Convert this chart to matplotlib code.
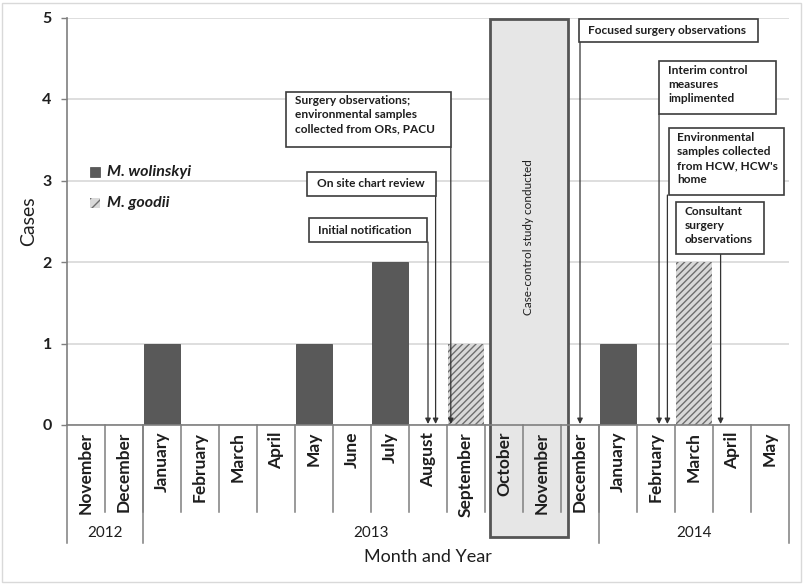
import numpy as np
import matplotlib
matplotlib.use('Agg')
import matplotlib.pyplot as plt
from matplotlib.patches import Rectangle

plt.rcParams['font.family'] = ['Lato', 'DejaVu Sans']
plt.rcParams['hatch.linewidth'] = 1.0

# ---------------- data ----------------
months = ['November', 'December', 'January', 'February', 'March', 'April',
          'May', 'June', 'July', 'August', 'September', 'October', 'November',
          'December', 'January', 'February', 'March', 'April', 'May']
years = ['2012', '2013', '2014']
year_first = [0, 2, 14]
year_last = [1, 13, 18]
wolinskyi = [0, 0, 1, 0, 0, 0, 1, 0, 2, 0, 0, 0, 0, 0, 1, 0, 0, 0, 0]
goodii = [0, 0, 0, 0, 0, 0, 0, 0, 0, 0, 1, 0, 0, 0, 0, 0, 2, 0, 0]
series_names = ['M. wolinskyi', 'M. goodii']

event_texts = ['Surgery observations;\nenvironmental samples\ncollected from ORs, PACU',
               'On site chart review',
               'Initial notification',
               'Focused surgery observations',
               'Interim control\nmeasures\nimplimented',
               'Environmental\nsamples collected\nfrom HCW, HCW\'s\nhome',
               'Consultant\nsurgery\nobservations']
event_month = [9.6, 9.2, 9.0, 13.0, 15.08, 15.3, 16.7]   # month index (float)
study_text = 'Case-control study conducted'
study_span = (10.63, 12.68)
yticks = [0, 1, 2, 3, 4, 5]

# ---------------- layout (pixels) ----------------
W, H = 804, 585
L, R, T, B = 67, 789, 17.5, 425
fig = plt.figure(figsize=(W / 100, H / 100), dpi=100)
ax = fig.add_axes([L / W, 1 - B / H, (R - L) / W, (B - T) / H])
n = len(months)
ax.set_xlim(-0.5, n - 0.5)
ax.set_ylim(0, 5)

def X(p):
    return (p - L) / (R - L) * n - 0.5

def Y(p):
    return (B - p) / (B - T) * 5

dark = '#595959'
edge = '#3c3c3c'
axis_col = '#7f7f7f'
txt_col = '#1e1e1e'

x = np.arange(n)
ax.bar(x, wolinskyi, width=0.96, color=dark, edgecolor='#4a4a4a', linewidth=0.6, zorder=3)
ax.bar(x, goodii, width=0.96, color='#d9d9d9', edgecolor='#6e6e6e', hatch='/////',
       linewidth=0, zorder=3)

# grid & axes
ax.set_yticks(yticks)
ax.set_yticklabels([str(v) for v in yticks], fontsize=11.5, fontweight='bold', color=txt_col)
ax.yaxis.grid(True, color='#d4d4d4', linewidth=1.1, zorder=0)
ax.set_axisbelow(True)
ax.tick_params(axis='y', length=4, width=1, color=axis_col, pad=7)
for s in ['top', 'right']:
    ax.spines[s].set_visible(False)
ax.spines['left'].set_color(axis_col)
ax.spines['left'].set_linewidth(1.2)
ax.spines['bottom'].set_color(axis_col)
ax.spines['bottom'].set_linewidth(1.2)
ax.spines['bottom'].set_zorder(6)
ax.set_ylabel('Cases', fontsize=14, color=txt_col, labelpad=4)

ax.set_xticks([])
for i, m in enumerate(months):
    ax.text(i, Y(432), m, rotation=90, ha='center', va='top', fontsize=12.5,
            fontweight='bold', color=txt_col, zorder=5, clip_on=False)

# month separators
for i in range(1, n):
    ax.plot([i - 0.5, i - 0.5], [0, Y(512)], color=axis_col, lw=1.1, clip_on=False, zorder=4)
# year separators
for b in [-0.5] + [f - 0.5 for f in year_first[1:]] + [n - 0.5]:
    ax.plot([b, b], [0, Y(543)], color=axis_col, lw=1.1, clip_on=False, zorder=4)
for yname, f, l in zip(years, year_first, year_last):
    ax.text((f + l) / 2, Y(533), yname, ha='center', va='center', fontsize=11,
            color=txt_col, clip_on=False)
ax.text(X(428), Y(557), 'Month and Year', ha='center', va='center', fontsize=13,
        color=txt_col, clip_on=False)

# case-control study box
ax.add_patch(Rectangle((study_span[0], Y(536.5)), study_span[1] - study_span[0],
                       Y(18.5) - Y(536.5), facecolor='#e6e6e6', edgecolor='#555555',
                       linewidth=2, clip_on=False, zorder=1.5))
ax.text((study_span[0] + study_span[1]) / 2, Y(237), study_text, rotation=90,
        ha='center', va='center', fontsize=8.5, color=txt_col, zorder=5)

# legend
leg_y = [172, 203]
ax.add_patch(Rectangle((X(90), Y(177)), X(100) - X(90), Y(167) - Y(177),
                       facecolor=dark, edgecolor='#4a4a4a', lw=0.5, clip_on=False))
ax.add_patch(Rectangle((X(90), Y(208)), X(100) - X(90), Y(198) - Y(208),
                       facecolor='#d9d9d9', edgecolor='#6e6e6e', hatch='///', lw=0,
                       clip_on=False))
for name, py in zip(series_names, leg_y):
    ax.text(X(107), Y(py), name, fontsize=11.5, fontweight='bold', fontstyle='italic',
            ha='left', va='center', color=txt_col)

# event boxes (left, right, top, bottom in px) and text start
boxes = [(286, 451, 92, 147), (307, 436, 172, 196), (309, 427, 218, 242),
         (579, 758, 19, 42), (659, 776, 61, 114), (669, 784, 128, 195),
         (676, 764, 202, 254)]
text_x = [295, 317, 318, 588, 668, 677, 685]
text_y = [95, 184, 230.5, 30.5, 65, 132, 206]
for k, (txt, em) in enumerate(zip(event_texts, event_month)):
    l, r, t, b = boxes[k]
    ax.add_patch(Rectangle((X(l), Y(b)), X(r) - X(l), Y(t) - Y(b), facecolor='white',
                           edgecolor=edge, linewidth=1.2, clip_on=False, zorder=7))
    multi = '\n' in txt
    ax.text(X(text_x[k]), Y(text_y[k]), txt, ha='left', va='top' if multi else 'center',
            fontsize=8.6, fontweight='bold', color=txt_col, linespacing=1.33,
            zorder=8, clip_on=False)
    ax.annotate('', xy=(em, Y(424)), xytext=(em, Y(b)),
                arrowprops=dict(arrowstyle='-|>', color='#333333', lw=0.9,
                                mutation_scale=8, shrinkA=0, shrinkB=0),
                zorder=6, annotation_clip=False)

# figure border
fig.add_artist(Rectangle((2.5 / W, 3 / H), (801 - 2.5) / W, (582 - 3) / H,
                         transform=fig.transFigure, fill=False, edgecolor='#d9d9d9', lw=1))

fig.savefig('out.png', dpi=100)
